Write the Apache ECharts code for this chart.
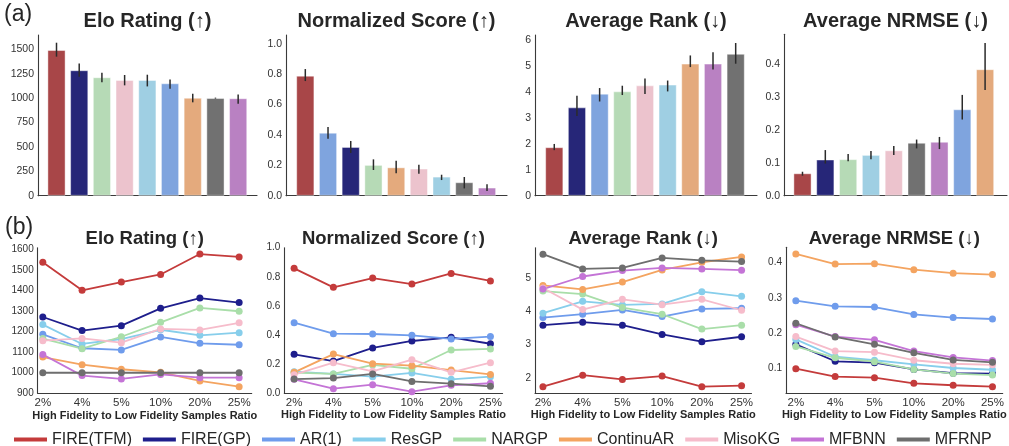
<!DOCTYPE html>
<html>
<head>
<meta charset="utf-8">
<script src="https://cdn.jsdelivr.net/npm/echarts@6/dist/echarts.min.js"></script>
<style>
  html, body { margin: 0; padding: 0; background: #ffffff; }
  #chart { width: 1009px; height: 446px; }
</style>
</head>
<body>
<div id="chart"></div>
<script>
// ---- methods and colours ----
const methods = ['FIRE(TFM)', 'FIRE(GP)', 'AR(1)', 'ResGP', 'NARGP', 'ContinuAR', 'MisoKG', 'MFBNN', 'MFRNP'];
const lineColors = ['#c43b3b', '#1e1e8c', '#6f9cec', '#87ceeb', '#a9dea9', '#f4a460', '#f6bccb', '#c474d6', '#6e6e6e'];
const barColors = ['#a84648', '#262678', '#7fa4de', '#9fcfe3', '#b6dab6', '#e4aa7d', '#ecc3cd', '#b981c2', '#717171'];

// ---- (a) overall results: bars sorted per metric, with error ranges ----
const eloOrder = ['FIRE(TFM)', 'FIRE(GP)', 'NARGP', 'MisoKG', 'ResGP', 'AR(1)', 'ContinuAR', 'MFRNP', 'MFBNN'];
const eloMean = [1492, 1285, 1213, 1185, 1185, 1151, 1003, 1000, 998];
const eloLow = [1425, 1220, 1162, 1131, 1120, 1097, 957, 995, 943];
const eloHigh = [1568, 1356, 1260, 1237, 1240, 1192, 1045, 1005, 1038];

const normOrder = ['FIRE(TFM)', 'AR(1)', 'FIRE(GP)', 'NARGP', 'ContinuAR', 'MisoKG', 'ResGP', 'MFRNP', 'MFBNN'];
const normMean = [0.789, 0.414, 0.320, 0.202, 0.186, 0.178, 0.125, 0.088, 0.053];
const normLow = [0.754, 0.375, 0.281, 0.169, 0.147, 0.145, 0.103, 0.048, 0.031];
const normHigh = [0.833, 0.452, 0.360, 0.239, 0.230, 0.204, 0.138, 0.123, 0.075];

const rankOrder = ['FIRE(TFM)', 'FIRE(GP)', 'AR(1)', 'NARGP', 'MisoKG', 'ResGP', 'ContinuAR', 'MFBNN', 'MFRNP'];
const rankMean = [1.87, 3.41, 3.94, 4.03, 4.26, 4.29, 5.10, 5.10, 5.48];
const rankLow = [1.76, 3.08, 3.64, 3.89, 3.93, 4.03, 4.97, 4.88, 5.10];
const rankHigh = [2.00, 3.86, 4.16, 4.25, 4.53, 4.45, 5.42, 5.54, 5.90];

const nrmseOrder = ['FIRE(TFM)', 'FIRE(GP)', 'NARGP', 'ResGP', 'MisoKG', 'MFRNP', 'MFBNN', 'AR(1)', 'ContinuAR'];
const nrmseMean = [0.068, 0.110, 0.111, 0.124, 0.138, 0.161, 0.164, 0.263, 0.385];
const nrmseLow = [0.061, 0.098, 0.105, 0.111, 0.124, 0.144, 0.142, 0.232, 0.322];
const nrmseHigh = [0.073, 0.139, 0.127, 0.136, 0.151, 0.171, 0.179, 0.307, 0.465];

// tick labels of the bar panels
const eloBarTicks = [0, 250, 500, 750, 1000, 1250, 1500];
const normBarTicks = [0, 0.2, 0.4, 0.6, 0.8, 1.0];
const rankBarTicks = [0, 1, 2, 3, 4, 5, 6];
const nrmseBarTicks = [0, 0.1, 0.2, 0.3, 0.4];

// ---- (b) results per sample ratio, rows in `methods` order ----
const ratioLabels = ['2%', '4%', '5%', '10%', '20%', '25%'];

const eloTrend = [
  [1537, 1401, 1441, 1478, 1577, 1563],
  [1271, 1205, 1229, 1313, 1363, 1341],
  [1187, 1119, 1111, 1174, 1143, 1136],
  [1234, 1140, 1164, 1209, 1182, 1195],
  [1166, 1117, 1175, 1245, 1315, 1299],
  [1076, 1039, 1017, 1002, 960, 932],
  [1156, 1167, 1146, 1213, 1208, 1243],
  [1089, 986, 970, 992, 976, 976],
  [1000, 1000, 1000, 1000, 1000, 1000]
];
const normTrend = [
  [0.858, 0.727, 0.791, 0.750, 0.823, 0.771],
  [0.266, 0.220, 0.310, 0.358, 0.383, 0.339],
  [0.484, 0.408, 0.406, 0.397, 0.372, 0.388],
  [0.147, 0.131, 0.112, 0.138, 0.094, 0.112],
  [0.140, 0.131, 0.193, 0.167, 0.296, 0.303],
  [0.142, 0.268, 0.202, 0.188, 0.158, 0.128],
  [0.126, 0.209, 0.149, 0.229, 0.142, 0.209],
  [0.094, 0.030, 0.057, 0.009, 0.053, 0.067],
  [0.096, 0.103, 0.131, 0.080, 0.064, 0.046]
];
const rankTrend = [
  [1.73, 2.08, 1.95, 2.05, 1.73, 1.76],
  [3.59, 3.68, 3.59, 3.31, 3.09, 3.24],
  [3.82, 3.92, 4.05, 3.85, 4.08, 4.10],
  [3.95, 4.31, 4.20, 4.23, 4.60, 4.46],
  [4.62, 4.53, 4.12, 3.92, 3.47, 3.59],
  [4.79, 4.67, 4.89, 5.26, 5.49, 5.65],
  [4.71, 4.06, 4.37, 4.21, 4.37, 4.04],
  [4.68, 5.06, 5.24, 5.32, 5.29, 5.25],
  [5.735, 5.29, 5.32, 5.62, 5.55, 5.51]
];
const nrmseTrend = [
  [0.099, 0.0765, 0.0735, 0.0575, 0.052, 0.048],
  [0.168, 0.120, 0.116, 0.097, 0.086, 0.085],
  [0.292, 0.276, 0.274, 0.253, 0.244, 0.240],
  [0.182, 0.133, 0.123, 0.111, 0.101, 0.096],
  [0.162, 0.130, 0.119, 0.097, 0.085, 0.081],
  [0.4246, 0.396, 0.397, 0.380, 0.370, 0.366],
  [0.190, 0.149, 0.146, 0.123, 0.113, 0.110],
  [0.224, 0.190, 0.181, 0.149, 0.131, 0.122],
  [0.228, 0.189, 0.168, 0.144, 0.124, 0.117]
];

// tick labels of the line panels
const eloLineTicks = [900, 1000, 1100, 1200, 1300, 1400, 1500, 1600];
const normLineTicks = [0, 0.2, 0.4, 0.6, 0.8, 1.0];
const rankLineTicks = [2, 3, 4, 5];
const nrmseLineTicks = [0.1, 0.2, 0.3, 0.4];

// ---- layout ----
const FONT = "'Liberation Sans', Arial, Helvetica, sans-serif";
const AXIS_COLOR = '#3a3a3a';
const LABEL_COLOR = '#333333';
const TITLE_COLOR = '#262626';

const fmtInt = v => String(Math.round(v));
const fmt1 = v => v.toFixed(1);

const barPanels = [
  { title: 'Elo Rating (↑)', order: eloOrder, mean: eloMean, low: eloLow, high: eloHigh,
    ticks: eloBarTicks, fmt: fmtInt, yMax: 1647,
    grid: { left: 38, top: 35, width: 219, height: 160.7 }, xMin: -0.815, xMax: 8.83 },
  { title: 'Normalized Score (↑)', order: normOrder, mean: normMean, low: normLow, high: normHigh,
    ticks: normBarTicks, fmt: fmt1, yMax: 1.057,
    grid: { left: 286, top: 35, width: 221, height: 160.7 }, xMin: -0.85, xMax: 8.88 },
  { title: 'Average Rank (↓)', order: rankOrder, mean: rankMean, low: rankLow, high: rankHigh,
    ticks: rankBarTicks, fmt: fmtInt, yMax: 6.21,
    grid: { left: 535, top: 35, width: 222, height: 160.7 }, xMin: -0.85, xMax: 8.94 },
  { title: 'Average NRMSE (↓)', order: nrmseOrder, mean: nrmseMean, low: nrmseLow, high: nrmseHigh,
    ticks: nrmseBarTicks, fmt: fmt1, yMax: 0.4916,
    grid: { left: 784, top: 34.3, width: 223, height: 161.4 }, xMin: -0.81, xMax: 8.96 }
];

const linePanels = [
  { title: 'Elo Rating (↑)', values: eloTrend, ticks: eloLineTicks, fmt: fmtInt, yMin: 900, yMax: 1608,
    grid: { left: 37.7, top: 247.7, width: 214, height: 145.6 }, xMin: -0.13, xMax: 5.32 },
  { title: 'Normalized Score (↑)', values: normTrend, ticks: normLineTicks, fmt: fmt1, yMin: 0, yMax: 1.0,
    grid: { left: 284.3, top: 247.7, width: 218.3, height: 145.3 }, xMin: -0.25, xMax: 5.31 },
  { title: 'Average Rank (↓)', values: rankTrend, ticks: rankLineTicks, fmt: fmtInt, yMin: 1.54, yMax: 5.93,
    grid: { left: 535, top: 247.7, width: 216.5, height: 145.3 }, xMin: -0.2, xMax: 5.25 },
  { title: 'Average NRMSE (↓)', values: nrmseTrend, ticks: nrmseLineTicks, fmt: fmt1, yMin: 0.030, yMax: 0.4435,
    grid: { left: 786, top: 247.3, width: 216.7, height: 145.7 }, xMin: -0.25, xMax: 5.26 }
];

const grids = [], xAxes = [], yAxes = [], series = [], texts = [];
// spines stay on the grid edges (not on the zero of the other axis)
const axisLineStyle = { show: true, onZero: false, lineStyle: { color: AXIS_COLOR, width: 1.1 } };

// error bar of one panel: a thin vertical rect between the low and high values
function errorBarRenderer(panel) {
  return function (params, api) {
    const i = params.dataIndex;
    const bottom = api.coord([i, panel.low[i]]);
    const top = api.coord([i, panel.high[i]]);
    return {
      type: 'rect',
      shape: { x: bottom[0] - 0.75, y: top[1], width: 1.5, height: bottom[1] - top[1] },
      style: { fill: '#2b2b2b' }
    };
  };
}

barPanels.forEach((p, k) => {
  grids.push(Object.assign({ containLabel: false }, p.grid));
  xAxes.push({
    type: 'value', gridIndex: k, min: p.xMin, max: p.xMax,
    axisLine: axisLineStyle, axisTick: { show: false }, axisLabel: { show: false }, splitLine: { show: false }
  });
  yAxes.push({
    type: 'value', gridIndex: k, min: 0, max: p.yMax,
    axisLine: axisLineStyle, axisTick: { show: false }, splitLine: { show: false },
    axisLabel: { customValues: p.ticks, formatter: p.fmt, color: LABEL_COLOR, fontFamily: FONT, fontSize: 10.5, margin: 4 }
  });
  series.push({
    type: 'bar', xAxisIndex: k, yAxisIndex: k, barWidth: 18,
    data: p.order.map((name, i) => ({
      value: [i, p.mean[i]],
      itemStyle: { color: barColors[methods.indexOf(name)], borderColor: 'rgba(255,255,255,0.55)', borderWidth: 0.8 }
    })),
    silent: true
  });
  series.push({
    type: 'custom', xAxisIndex: k, yAxisIndex: k, z: 5,
    renderItem: errorBarRenderer(p),
    data: p.order.map((name, i) => [i, p.mean[i]]),
    silent: true
  });
  texts.push({
    type: 'text', silent: true,
    style: { text: p.title, x: p.grid.left + p.grid.width / 2, y: 21, align: 'center', verticalAlign: 'middle',
             font: `bold 20px ${FONT}`, fill: TITLE_COLOR }
  });
});

linePanels.forEach((p, j) => {
  const k = j + 4;
  grids.push(Object.assign({ containLabel: false }, p.grid));
  xAxes.push({
    type: 'value', gridIndex: k, min: p.xMin, max: p.xMax,
    axisLine: axisLineStyle, axisTick: { show: false }, splitLine: { show: false },
    axisLabel: { customValues: [0, 1, 2, 3, 4, 5], formatter: v => ratioLabels[Math.round(v)],
                 color: LABEL_COLOR, fontFamily: FONT, fontSize: 11.5, margin: 4 },
    name: 'High Fidelity to Low Fidelity Samples Ratio', nameLocation: 'middle', nameGap: 15,
    nameTextStyle: { color: TITLE_COLOR, fontFamily: FONT, fontSize: 11, fontWeight: 'bold' }
  });
  yAxes.push({
    type: 'value', gridIndex: k, min: p.yMin, max: p.yMax,
    axisLine: axisLineStyle, axisTick: { show: false }, splitLine: { show: false },
    axisLabel: { customValues: p.ticks, formatter: p.fmt, color: LABEL_COLOR, fontFamily: FONT, fontSize: 10, margin: 4 }
  });
  methods.forEach((name, m) => {
    series.push({
      type: 'line', name: name, xAxisIndex: k, yAxisIndex: k,
      data: p.values[m].map((v, i) => [i, v]),
      symbol: 'circle', symbolSize: 7,
      lineStyle: { color: lineColors[m], width: 1.8 },
      itemStyle: { color: lineColors[m] },
      silent: true
    });
  });
  texts.push({
    type: 'text', silent: true,
    style: { text: p.title, x: p.grid.left + p.grid.width / 2, y: 238.5, align: 'center', verticalAlign: 'middle',
             font: `bold 18.5px ${FONT}`, fill: TITLE_COLOR }
  });
});

// panel tags
texts.push({ type: 'text', silent: true,
  style: { text: '(a)', x: 4, y: 15, verticalAlign: 'middle', font: `23px ${FONT}`, fill: TITLE_COLOR } });
texts.push({ type: 'text', silent: true,
  style: { text: '(b)', x: 5, y: 228, verticalAlign: 'middle', font: `23px ${FONT}`, fill: TITLE_COLOR } });

const chart = echarts.init(document.getElementById('chart'), null, { renderer: 'canvas' });
chart.setOption({
  animation: false,
  backgroundColor: '#ffffff',
  grid: grids,
  xAxis: xAxes,
  yAxis: yAxes,
  series: series,
  graphic: texts,
  legend: {
    left: 14, top: 431.5, itemWidth: 33, itemHeight: 4, itemGap: 10.9, icon: 'rect',
    padding: 0, selectedMode: false,
    textStyle: { fontFamily: FONT, fontSize: 16, color: '#262626' },
    data: methods.map((name, m) => ({ name: name, itemStyle: { color: lineColors[m] } }))
  }
});
</script>
</body>
</html>
